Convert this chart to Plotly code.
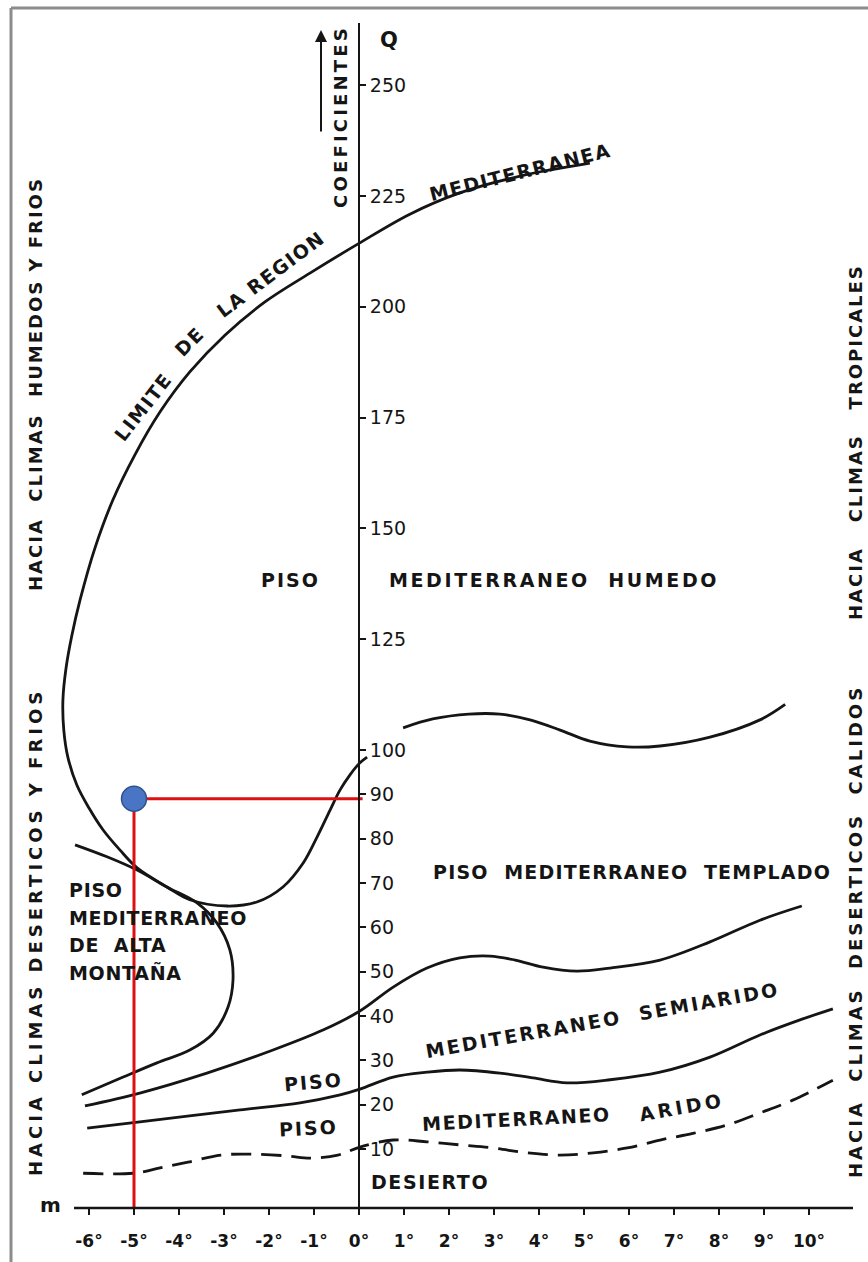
import plotly.graph_objects as go

# ---- axes: m (deg C) horizontally, Q coefficient vertically ----
m_ticks = [-6, -5, -4, -3, -2, -1, 0, 1, 2, 3, 4, 5, 6, 7, 8, 9, 10]
m_labels = ["-6°", "-5°", "-4°", "-3°", "-2°", "-1°", "0°", "1°", "2°", "3°",
            "4°", "5°", "6°", "7°", "8°", "9°", "10°"]
q_ticks = [10, 20, 30, 40, 50, 60, 70, 80, 90, 100, 125, 150, 175, 200, 225, 250]
q_labels = [str(v) for v in q_ticks]

# ---- boundary curves (m, Q) ----
limite_m = [5.13, 3.58, 2.24, 1.13, -0.02, -1.09, -2.09, -2.98, -3.76, -4.42, -4.98,
            -5.47, -5.87, -6.20, -6.38, -6.51, -6.58, -6.56, -6.47, -6.27, -6.00,
            -5.69, -5.31, -4.93, -4.27, -3.76, -2.93, -2.27, -1.69, -1.24, -0.93,
            -0.64, -0.42, -0.20, 0.02, 0.18]
limite_q = [232.4, 229.5, 225.7, 220.9, 214.2, 207.6, 201.1, 193.6, 185.3, 176.3, 166.6,
            156.4, 145.5, 133.8, 125.9, 118.5, 111.2, 104.5, 98.4, 92.1, 86.9,
            82.0, 77.4, 73.4, 69.1, 66.2, 64.8, 65.7, 69.1, 74.5, 80.4,
            86.5, 91.0, 94.4, 97.1, 98.4]

humedo_m = [0.98, 1.64, 2.44, 3.13, 3.80, 4.47, 5.13, 5.96, 6.69, 7.80, 8.91, 9.47]
humedo_q = [105.0, 107.0, 108.1, 108.1, 106.8, 104.5, 102.0, 100.7, 100.9, 102.9, 106.8, 110.3]

montana_m = [-6.31, -5.60, -4.93, -4.27, -3.60, -3.16, -2.87, -2.80, -2.91, -3.24,
             -3.76, -4.49, -5.24, -6.16]
montana_q = [78.6, 75.9, 72.9, 69.1, 65.5, 61.0, 54.9, 48.1, 42.0, 36.1,
             32.3, 29.4, 26.2, 22.2]

templado_m = [-6.09, -4.87, -3.38, -1.91, -0.80, 0.02, 0.76, 1.51, 2.24, 2.91, 3.47,
              4.09, 4.84, 5.58, 6.69, 7.80, 8.91, 9.84]
templado_q = [19.7, 22.6, 27.1, 32.3, 36.8, 41.1, 46.5, 50.8, 53.1, 53.5, 52.6,
              51.0, 50.1, 50.8, 52.6, 56.7, 61.6, 64.8]

semiarido_m = [-6.04, -4.87, -2.64, -1.31, -0.42, 0.02, 0.76, 1.51, 2.24, 3.13, 3.87,
               4.62, 5.58, 6.69, 7.80, 8.91, 9.80, 10.53]
semiarido_q = [14.7, 16.1, 18.8, 20.4, 22.2, 23.5, 26.2, 27.3, 27.8, 27.1, 26.0,
               24.9, 25.6, 27.3, 30.7, 35.7, 39.1, 41.6]

desierto_m = [-6.13, -5.02, -4.42, -3.80, -3.07, -2.31, -1.58, -1.09, -0.47, 0.02, 0.76,
              1.51, 2.24, 2.98, 3.73, 4.47, 5.20, 5.96, 6.69, 7.42, 8.18, 8.91, 9.64, 10.53]
desierto_q = [4.5, 4.5, 5.7, 7.0, 8.6, 8.8, 8.4, 7.9, 8.6, 10.4, 12.0,
              11.6, 10.9, 10.2, 9.1, 8.6, 9.1, 10.2, 12.0, 13.5, 15.4, 18.1, 21.0, 25.5]

# ---- station marked on the climagram ----
station_m = -5
station_q = 89

FONT = "DejaVu Sans"
INK = "#151515"
W, H = 868, 1262

# plot-area geometry (pixels)
AX_X = 359            # vertical axis (m = 0)
AX_Y = 1208           # horizontal axis
TOP_Y = 23
PX_PER_M = 45.0
PX_PER_Q = 4.432
Q_AT_AXIS = (1193.2 - AX_Y) / PX_PER_Q
Q_AT_TOP = (1193.2 - TOP_Y) / PX_PER_Q
M_LEFT = (0 - AX_X) / PX_PER_M
M_RIGHT = (W - AX_X) / PX_PER_M

fig = go.Figure()

def curve(xs, ys, dash="solid"):
    fig.add_trace(go.Scatter(x=xs, y=ys, mode="lines", line_shape="spline",
                             line=dict(color=INK, width=2.8, dash=dash),
                             hoverinfo="skip", showlegend=False))

curve(limite_m, limite_q)
curve(humedo_m, humedo_q)
curve(montana_m, montana_q)
curve(templado_m, templado_q)
curve(semiarido_m, semiarido_q)
curve(desierto_m, desierto_q, dash="20px,10px")

# red guides from the station to both axes
RED = "#dc1010"
fig.add_trace(go.Scatter(x=[station_m, 0.08], y=[station_q, station_q], mode="lines",
                         line=dict(color=RED, width=3), hoverinfo="skip", showlegend=False))
fig.add_trace(go.Scatter(x=[station_m, station_m], y=[station_q, Q_AT_AXIS], mode="lines",
                         line=dict(color=RED, width=3), hoverinfo="skip", showlegend=False))
fig.add_trace(go.Scatter(x=[station_m], y=[station_q], mode="markers",
                         marker=dict(size=25, color="#4a74c4",
                                     line=dict(color="#2f528f", width=1.5)),
                         hoverinfo="skip", showlegend=False))


def sp(text, ls=2):
    return f'<span style="letter-spacing:{ls}px">{text}</span>'


def label(text, x, y, size=19, angle=0, xanchor="center", ls=2, ref="data"):
    kw = dict(xref="x", yref="y") if ref == "data" else dict(xref="paper", yref="paper")
    fig.add_annotation(text=sp(text, ls), x=x, y=y, showarrow=False, textangle=angle,
                       xanchor=xanchor, yanchor="middle",
                       font=dict(family=FONT, size=size, color=INK, weight="bold"), **kw)


# region names
label("LIMITE", -4.80, 177.4, angle=-52, ls=1.5)
label("DE", -3.76, 192.3, angle=-45)
label("LA REGION", -1.96, 207.4, angle=-37, ls=1.5)
label("MEDITERRANEA", 3.58, 230.4, angle=-14, ls=1.5)
label("PISO", -1.53, 138.4)
label("MEDITERRANEO  HUMEDO", 4.33, 138.4, ls=2.6)
label("PISO  MEDITERRANEO  TEMPLADO", 6.07, 72.5, ls=1.2)
for txt, q in zip(["PISO", "MEDITERRANEO", "DE  ALTA", "MONTAÑA"], [68.4, 62.1, 56.0, 49.9]):
    label(txt, -6.49, q, xanchor="left", ls=0.7)
label("MEDITERRANEO  SEMIARIDO", 5.42, 39.1, angle=-10, ls=2.4)
label("PISO", -1.02, 25.1, angle=-5)
label("PISO", -1.13, 14.7, angle=-3)
label("MEDITERRANEO", 3.49, 16.7, angle=-3, ls=1.6)
label("ARIDO", 7.18, 19.4, angle=-10, ls=3.5)
label("DESIERTO", 1.58, 2.5, ls=1.6)

# side captions (paper coordinates)
def side(text, px, py, angle=-90, size=18, ls=2):
    label(text, px / W, 1 - py / H, size=size, angle=angle, ls=ls, ref="paper")

side("HACIA  CLIMAS  HUMEDOS Y FRIOS", 35, 384)
side("HACIA CLIMAS DESERTICOS Y FRIOS", 35, 932, ls=4)
side("HACIA   CLIMAS   TROPICALES", 855, 442)
side("HACIA  CLIMAS  DESERTICOS  CALIDOS", 855, 932, ls=3)
side("COEFICIENTES", 340, 117, size=18, ls=3.2)
side("Q", 389, 40, angle=0, size=21, ls=0)
side("m", 50, 1205, angle=0, size=20, ls=0)

# arrow beside the Q coefficient caption
fig.add_annotation(x=321 / W, y=1 - 30 / H, xref="paper", yref="paper", text="",
                   showarrow=True, ax=0, ay=103, arrowhead=2, arrowsize=1.2,
                   arrowwidth=2, arrowcolor=INK)

# horizontal axis line and page frame
fig.add_shape(type="line", xref="paper", yref="paper", x0=74 / W, x1=853 / W,
              y0=1 - AX_Y / H, y1=1 - AX_Y / H, line=dict(color=INK, width=2.5))
fig.add_shape(type="line", xref="paper", yref="paper", x0=11 / W, x1=11 / W,
              y0=0, y1=1 - 8 / H, line=dict(color="#8c8c8c", width=3))
fig.add_shape(type="line", xref="paper", yref="paper", x0=11 / W, x1=1,
              y0=1 - 8 / H, y1=1 - 8 / H, line=dict(color="#8c8c8c", width=3))

fig.update_layout(
    width=W, height=H, margin=dict(l=0, r=0, t=0, b=0),
    paper_bgcolor="white", plot_bgcolor="white", showlegend=False,
    xaxis=dict(domain=[0, 1], range=[M_LEFT, M_RIGHT], tickvals=m_ticks, ticktext=m_labels,
               ticks="outside", ticklen=6, tickwidth=2, tickcolor=INK, showline=False,
               showgrid=False, zeroline=False, ticklabelstandoff=12,
               tickfont=dict(family=FONT, size=17, color=INK, weight="bold")),
    yaxis=dict(domain=[1 - AX_Y / H, 1 - TOP_Y / H], range=[Q_AT_AXIS, Q_AT_TOP],
               anchor="free", position=AX_X / W, side="right",
               tickvals=q_ticks, ticktext=q_labels, ticks="outside", ticklen=6,
               tickwidth=2, tickcolor=INK, showline=True, linecolor=INK, linewidth=2,
               showgrid=False, zeroline=False,
               tickfont=dict(family=FONT, size=19, color=INK)),
)

fig.write_html("out.html")
